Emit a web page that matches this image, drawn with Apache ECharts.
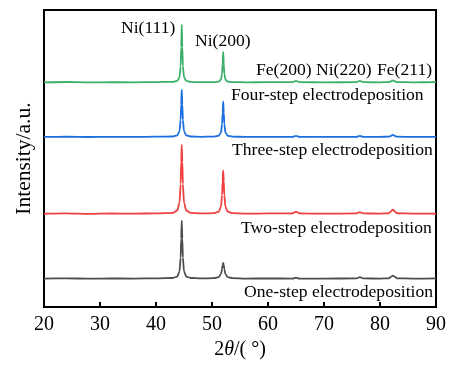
<!DOCTYPE html>
<html>
<head>
<meta charset="utf-8">
<script src="https://cdn.jsdelivr.net/npm/echarts@6/dist/echarts.min.js"></script>
<style>
  html, body { margin: 0; padding: 0; background: #fff; }
  #chart { width: 453px; height: 365px; }
</style>
</head>
<body>
<div id="chart"></div>
<script>
// 2θ sampling positions (degrees)
var twoTheta = [20, 24, 28, 32, 36, 40,
  43.0, 43.8, 44.2, 44.4, 44.5, 44.6, 44.7, 44.8, 45.0, 45.4, 46.2,
  48, 50.4,
  51.2, 51.6, 51.8, 51.9, 52.0, 52.1, 52.2, 52.4, 52.8, 53.6,
  56, 60, 64.4, 65.0, 65.6, 70, 75.8, 76.4, 77.0, 80,
  81.6, 82.0, 82.3, 82.6, 83.0, 86, 90];

// intensities (a.u., already stacked)
var fourStep = [228.5, 228.8, 228.4, 228.6, 228.5, 228.7,
  229.0, 230.0, 233.7, 244.9, 264.2, 287, 264.2, 244.9, 233.7, 229.9, 228.9,
  228.6, 228.7,
  229.2, 231.3, 237.2, 247.4, 259.5, 247.4, 237.2, 231.3, 229.2, 228.7,
  228.5, 228.6, 228.6, 230.0, 228.6, 228.5, 228.6, 230.0, 228.6, 228.5,
  228.7, 229.6, 230.5, 229.6, 228.7, 228.5, 228.6];

var threeStep = [173, 173.2, 172.9, 173.1, 173, 173.2,
  173.4, 174.6, 178.9, 190.3, 206.1, 221, 206.1, 190.3, 178.9, 174.6, 173.4,
  173.1, 173.3,
  174.2, 177.4, 186, 197.8, 209, 197.8, 186, 177.4, 174.2, 173.3,
  173, 173.1, 173, 174, 173, 173.1, 173, 174, 173, 173.1,
  173.2, 174.2, 175, 174.2, 173.2, 173, 173.1];

var twoStep = [95, 95.3, 94.8, 95.2, 95, 95.3,
  95.8, 98.2, 106.2, 125.1, 147.5, 165, 147.5, 125.1, 106.2, 98.2, 95.8,
  95.2, 95.5,
  97, 102, 113.9, 128, 139, 128, 113.9, 102, 97, 95.5,
  95, 95.2, 95.2, 97, 95.2, 95, 95.2, 96.5, 95.2, 95.1,
  95.4, 97.5, 99, 97.5, 95.4, 95.1, 95];

var oneStep = [29, 29.2, 28.9, 29.1, 29, 29.2,
  29.6, 31, 36.3, 50.2, 69.7, 88, 69.7, 50.2, 36.3, 31, 29.6,
  29.1, 29.4,
  30.4, 33.5, 38.8, 42.8, 45, 42.8, 38.8, 33.5, 30.4, 29.4,
  29, 29.1, 29, 30, 29, 29, 29.1, 30.5, 29.1, 29,
  29.3, 31, 32, 31, 29.3, 29, 29.1];

var seriesNames = ['One-step electrodeposition', 'Two-step electrodeposition',
  'Three-step electrodeposition', 'Four-step electrodeposition'];
var peakLabels = ['Ni(111)', 'Ni(200)', 'Fe(200)', 'Ni(220)', 'Fe(211)'];

var colors = ['#4d4d4d', '#f0403f', '#1c6fe0', '#3cb06a'];
var allData = [oneStep, twoStep, threeStep, fourStep];

function pairs(ys) {
  return twoTheta.map(function (x, i) { return [x, ys[i]]; });
}

var font = 'Liberation Serif, Times New Roman, serif';

var series = allData.map(function (ys, k) {
  return {
    name: seriesNames[k],
    type: 'line',
    data: pairs(ys),
    showSymbol: false,
    smooth: 0.25,
    smoothMonotone: 'x',
    lineStyle: { color: colors[k], width: 1.8 },
    animation: false
  };
});

// text labels (peak names + sample names)
var txt = function (s, x, y) {
  return {
    type: 'text', left: x, top: y,
    style: { text: s, font: '17.6px ' + font, fill: '#000' }
  };
};

var myChart = echarts.init(document.getElementById('chart'));
myChart.setOption({
  backgroundColor: '#fff',
  animation: false,
  grid: {
    left: 44, right: 17, top: 10, bottom: 53,
    show: true, borderColor: '#000', borderWidth: 2
  },
  xAxis: {
    type: 'value', min: 20, max: 90, interval: 10,
    axisLine: { show: true, lineStyle: { color: '#000', width: 2 } },
    axisTick: { show: true, inside: true, length: 5, lineStyle: { color: '#000', width: 2 } },
    axisLabel: { color: '#000', fontSize: 20, fontFamily: font, margin: 8 },
    splitLine: { show: false },
    name: '{n|2}{i|θ}{n|/( °)}',
    nameLocation: 'middle',
    nameGap: 24,
    nameTextStyle: {
      rich: {
        n: { fontSize: 20, fontFamily: font, color: '#000' },
        i: { fontSize: 20, fontFamily: font, fontStyle: 'italic', color: '#000' }
      }
    }
  },
  yAxis: {
    type: 'value', min: 0, max: 302,
    axisLine: { show: true, lineStyle: { color: '#000', width: 2 } },
    axisTick: { show: false },
    axisLabel: { show: false },
    splitLine: { show: false },
    name: 'Intensity/a.u.',
    nameLocation: 'middle',
    nameGap: 9,
    nameTextStyle: { fontSize: 21.5, fontFamily: font, color: '#000' }
  },
  graphic: [
    txt(peakLabels[0], 121, 19),
    txt(peakLabels[1], 195, 32),
    txt(peakLabels[2], 256, 61),
    txt(peakLabels[3], 316, 61),
    txt(peakLabels[4], 377, 61),
    txt(seriesNames[3], 231, 86),
    txt(seriesNames[2], 232, 141),
    txt(seriesNames[1], 241, 219),
    txt(seriesNames[0], 244, 283)
  ],
  series: series
});
</script>
</body>
</html>
